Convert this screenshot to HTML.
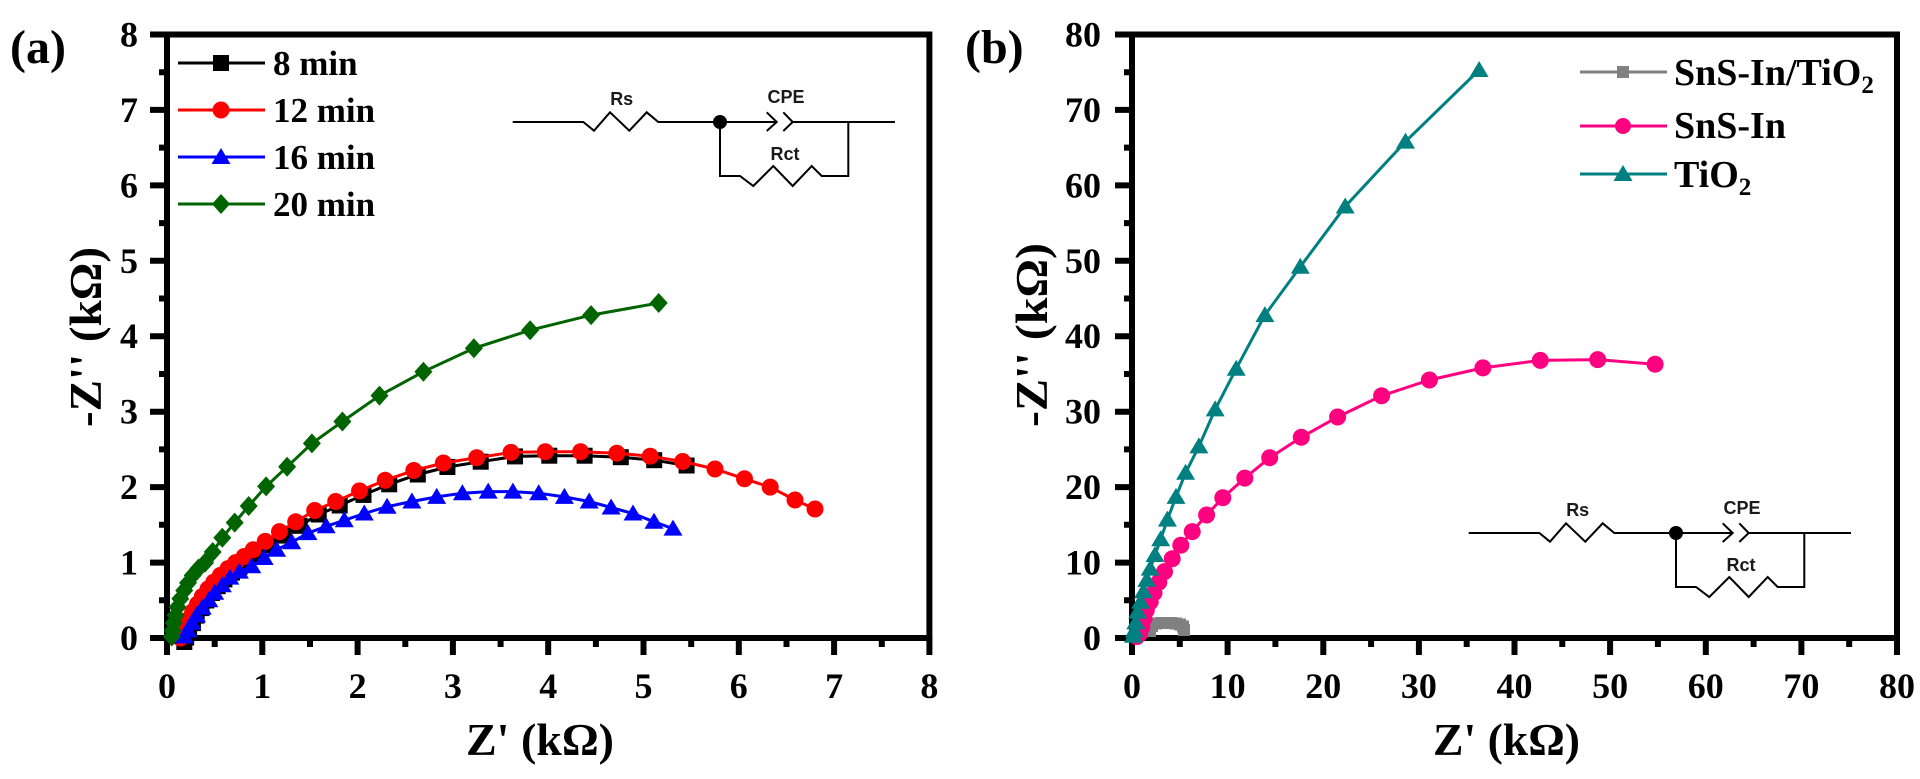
<!DOCTYPE html>
<html><head><meta charset="utf-8"><style>
html,body{margin:0;padding:0;background:#fff;}
svg{display:block;}
text{font-family:"Liberation Serif",serif;font-weight:bold;fill:#000;}
.c text{font-family:"Liberation Sans",sans-serif;font-size:18px;fill:#1a1a1a;}
</style></head><body>
<svg width="1920" height="779" viewBox="0 0 1920 779" xmlns="http://www.w3.org/2000/svg">
<rect width="1920" height="779" fill="#fff"/>

<!-- ============ PANEL A ============ -->
<g stroke="#000" stroke-width="6" fill="none">
<rect x="167" y="34.5" width="762.4" height="603.5"/>
<path d="M167 638V655M262.3 638V655M357.6 638V655M452.9 638V655M548.2 638V655M643.5 638V655M738.8 638V655M834.1 638V655M929.4 638V655"/>
<path d="M214.7 638V647M310 638V647M405.3 638V647M500.6 638V647M595.9 638V647M691.2 638V647M786.5 638V647M881.8 638V647"/>
<path d="M150 638H167M150 562.6H167M150 487.1H167M150 411.7H167M150 336.2H167M150 260.8H167M150 185.4H167M150 109.9H167M150 34.5H167"/>
<path d="M159 600.3H167M159 524.8H167M159 449.4H167M159 374H167M159 298.5H167M159 223.1H167M159 147.6H167M159 72.2H167"/>
</g>
<g font-size="36" text-anchor="middle">
<text x="167" y="698">0</text><text x="262.3" y="698">1</text><text x="357.6" y="698">2</text><text x="452.9" y="698">3</text><text x="548.2" y="698">4</text><text x="643.5" y="698">5</text><text x="738.8" y="698">6</text><text x="834.1" y="698">7</text><text x="929.4" y="698">8</text>
</g>
<g font-size="36" text-anchor="end">
<text x="138" y="650">0</text><text x="138" y="574.6">1</text><text x="138" y="499.1">2</text><text x="138" y="423.7">3</text><text x="138" y="348.2">4</text><text x="138" y="272.8">5</text><text x="138" y="197.4">6</text><text x="138" y="121.9">7</text><text x="138" y="46.5">8</text>
</g>
<text x="466" y="755" font-size="46" textLength="148" lengthAdjust="spacingAndGlyphs">Z' (kΩ)</text>
<text transform="translate(101,427) rotate(-90)" font-size="46" textLength="180" lengthAdjust="spacingAndGlyphs">-Z'' (kΩ)</text>
<text x="10" y="63" font-size="48">(a)</text>

<!-- series a: black -->
<polyline fill="none" stroke="#000" stroke-width="3" points="184.3,642 186.2,637.5 189.1,630.7 192.9,623.1 196.7,615.6 201.5,608.1 206.3,600.5 212,593 217.7,586.2 224.4,579.4 232,572.6 239.6,566.6 248.2,560.5 257.2,553.7 269.2,545.4 283.5,535.6 299.7,525.8 318.7,514.5 339.7,505.5 363.5,494.9 389.2,484.3 417.8,474.5 447.4,467 480.7,461.7 515,456.4 549.3,455.7 584.6,455.7 620.8,457.2 654.2,460.2 686.6,465.5"/>
<g fill="#000">
<rect x="176.3" y="634" width="16" height="16"/><rect x="178.2" y="629.5" width="16" height="16"/><rect x="181.1" y="622.7" width="16" height="16"/><rect x="184.9" y="615.1" width="16" height="16"/><rect x="188.7" y="607.6" width="16" height="16"/><rect x="193.5" y="600.1" width="16" height="16"/><rect x="198.3" y="592.5" width="16" height="16"/><rect x="204" y="585" width="16" height="16"/><rect x="209.7" y="578.2" width="16" height="16"/><rect x="216.4" y="571.4" width="16" height="16"/><rect x="224" y="564.6" width="16" height="16"/><rect x="231.6" y="558.6" width="16" height="16"/><rect x="240.2" y="552.5" width="16" height="16"/><rect x="249.2" y="545.7" width="16" height="16"/><rect x="261.2" y="537.4" width="16" height="16"/><rect x="275.5" y="527.6" width="16" height="16"/><rect x="291.7" y="517.8" width="16" height="16"/><rect x="310.7" y="506.5" width="16" height="16"/><rect x="331.7" y="497.5" width="16" height="16"/><rect x="355.5" y="486.9" width="16" height="16"/><rect x="381.2" y="476.3" width="16" height="16"/><rect x="409.8" y="466.5" width="16" height="16"/><rect x="439.4" y="459" width="16" height="16"/><rect x="472.7" y="453.7" width="16" height="16"/><rect x="507" y="448.4" width="16" height="16"/><rect x="541.3" y="447.7" width="16" height="16"/><rect x="576.6" y="447.7" width="16" height="16"/><rect x="612.8" y="449.2" width="16" height="16"/><rect x="646.2" y="452.2" width="16" height="16"/><rect x="678.6" y="457.5" width="16" height="16"/>
</g>
<!-- red -->
<polyline fill="none" stroke="#f00" stroke-width="3" points="180.3,638 182.2,633.5 185.1,626.7 188.9,619.1 192.7,611.6 197.5,604.1 202.3,596.5 208,589 213.7,582.2 220.4,575.4 228,568.6 235.6,562.6 244.2,556.5 253.2,549.7 265.2,541.4 279.5,531.6 295.7,521.8 314.7,510.5 335.7,501.5 359.5,490.9 385.2,480.3 413.8,470.5 443.4,463 476.7,457.7 511,452.4 545.3,451.7 580.6,451.7 616.8,453.2 650.2,456.2 682.6,461.5 715,469 744.5,478.8 770.2,487.1 795,500 815,509"/>
<g fill="#f00">
<circle cx="180.3" cy="638" r="8.5"/><circle cx="182.2" cy="633.5" r="8.5"/><circle cx="185.1" cy="626.7" r="8.5"/><circle cx="188.9" cy="619.1" r="8.5"/><circle cx="192.7" cy="611.6" r="8.5"/><circle cx="197.5" cy="604.1" r="8.5"/><circle cx="202.3" cy="596.5" r="8.5"/><circle cx="208" cy="589" r="8.5"/><circle cx="213.7" cy="582.2" r="8.5"/><circle cx="220.4" cy="575.4" r="8.5"/><circle cx="228" cy="568.6" r="8.5"/><circle cx="235.6" cy="562.6" r="8.5"/><circle cx="244.2" cy="556.5" r="8.5"/><circle cx="253.2" cy="549.7" r="8.5"/><circle cx="265.2" cy="541.4" r="8.5"/><circle cx="279.5" cy="531.6" r="8.5"/><circle cx="295.7" cy="521.8" r="8.5"/><circle cx="314.7" cy="510.5" r="8.5"/><circle cx="335.7" cy="501.5" r="8.5"/><circle cx="359.5" cy="490.9" r="8.5"/><circle cx="385.2" cy="480.3" r="8.5"/><circle cx="413.8" cy="470.5" r="8.5"/><circle cx="443.4" cy="463" r="8.5"/><circle cx="476.7" cy="457.7" r="8.5"/><circle cx="511" cy="452.4" r="8.5"/><circle cx="545.3" cy="451.7" r="8.5"/><circle cx="580.6" cy="451.7" r="8.5"/><circle cx="616.8" cy="453.2" r="8.5"/><circle cx="650.2" cy="456.2" r="8.5"/><circle cx="682.6" cy="461.5" r="8.5"/><circle cx="715" cy="469" r="8.5"/><circle cx="744.5" cy="478.8" r="8.5"/><circle cx="770.2" cy="487.1" r="8.5"/><circle cx="795" cy="500" r="8.5"/><circle cx="815" cy="509" r="8.5"/>
</g>
<!-- blue -->
<polyline fill="none" stroke="#00f" stroke-width="3" points="184.2,636.5 188,630.5 191.8,622.9 196.5,615.4 202.3,607.8 208.9,600.3 214.7,592.7 222.3,585.2 229.9,577.6 239.4,571.6 251.8,566.3 264.2,558 276.6,549.7 291.8,542.2 308,533.1 326.2,526.3 344.3,520.3 364.3,513.5 387.1,506.7 411.9,501.5 436.7,496.9 462.4,493.2 488.2,491.6 512.9,491.6 538.7,493.2 564.4,496.9 589.2,501.5 611.1,507.5 633,513.5 654,521.8 673,528.6"/>
<g fill="#00f">
<path d="M184.2 627.5l9.5 16h-19zM188 621.5l9.5 16h-19zM191.8 613.9l9.5 16h-19zM196.5 606.4l9.5 16h-19zM202.3 598.8l9.5 16h-19zM208.9 591.3l9.5 16h-19zM214.7 583.7l9.5 16h-19zM222.3 576.2l9.5 16h-19zM229.9 568.6l9.5 16h-19zM239.4 562.6l9.5 16h-19zM251.8 557.3l9.5 16h-19zM264.2 549l9.5 16h-19zM276.6 540.7l9.5 16h-19zM291.8 533.2l9.5 16h-19zM308 524.1l9.5 16h-19zM326.2 517.3l9.5 16h-19zM344.3 511.3l9.5 16h-19zM364.3 504.5l9.5 16h-19zM387.1 497.7l9.5 16h-19zM411.9 492.5l9.5 16h-19zM436.7 487.9l9.5 16h-19zM462.4 484.2l9.5 16h-19zM488.2 482.6l9.5 16h-19zM512.9 482.6l9.5 16h-19zM538.7 484.2l9.5 16h-19zM564.4 487.9l9.5 16h-19zM589.2 492.5l9.5 16h-19zM611.1 498.5l9.5 16h-19zM633 504.5l9.5 16h-19zM654 512.8l9.5 16h-19zM673 519.6l9.5 16h-19z"/>
</g>
<!-- green -->
<polyline fill="none" stroke="#006400" stroke-width="3" points="171.8,636.5 172.7,630.5 173.7,622.9 175.6,615.4 177.5,607.1 180.3,598.8 184.2,590.5 188,582.9 192.7,575.4 198.4,568.6 205.1,562.6 212.7,552 222.3,537.7 234.7,522.6 248.7,506 266.1,486.4 287.1,466.8 311.9,443.4 342.4,421.5 379.5,395.6 423.4,371.7 473.9,348.3 530.1,330.2 591.1,315.1 658.7,303"/>
<g fill="#006400">
<path d="M171.8 626.5l9 10l-9 10l-9-10zM172.7 620.5l9 10l-9 10l-9-10zM173.7 612.9l9 10l-9 10l-9-10zM175.6 605.4l9 10l-9 10l-9-10zM177.5 597.1l9 10l-9 10l-9-10zM180.3 588.8l9 10l-9 10l-9-10zM184.2 580.5l9 10l-9 10l-9-10zM188 572.9l9 10l-9 10l-9-10zM192.7 565.4l9 10l-9 10l-9-10zM198.4 558.6l9 10l-9 10l-9-10zM205.1 552.6l9 10l-9 10l-9-10zM212.7 542l9 10l-9 10l-9-10zM222.3 527.7l9 10l-9 10l-9-10zM234.7 512.6l9 10l-9 10l-9-10zM248.7 496l9 10l-9 10l-9-10zM266.1 476.4l9 10l-9 10l-9-10zM287.1 456.8l9 10l-9 10l-9-10zM311.9 433.4l9 10l-9 10l-9-10zM342.4 411.5l9 10l-9 10l-9-10zM379.5 385.6l9 10l-9 10l-9-10zM423.4 361.7l9 10l-9 10l-9-10zM473.9 338.3l9 10l-9 10l-9-10zM530.1 320.2l9 10l-9 10l-9-10zM591.1 305.1l9 10l-9 10l-9-10zM658.7 293l9 10l-9 10l-9-10z"/>
</g>

<!-- legend a -->
<g stroke-width="3">
<line x1="178" y1="63" x2="265" y2="63" stroke="#000"/>
<line x1="178" y1="110" x2="265" y2="110" stroke="#f00"/>
<line x1="178" y1="157" x2="265" y2="157" stroke="#00f"/>
<line x1="178" y1="204" x2="265" y2="204" stroke="#006400"/>
</g>
<rect x="213" y="55" width="16" height="16" fill="#000"/>
<circle cx="221" cy="110" r="8.5" fill="#f00"/>
<path d="M221 148l9.5 16h-19z" fill="#00f"/>
<path d="M221 194l9 10l-9 10l-9-10z" fill="#006400"/>
<g font-size="35">
<text x="273" y="75">8 min</text>
<text x="273" y="122">12 min</text>
<text x="273" y="169">16 min</text>
<text x="273" y="216">20 min</text>
</g>

<!-- circuit a -->
<g class="c">
<g fill="none" stroke="#000" stroke-width="2">
<polyline points="512.7,122 583.3,122 594,130.7 610,112.3 629.3,130.7 646.7,112.3 658.3,122 776.7,122"/>
<polyline points="766.7,112.3 776.7,122 766.7,131"/>
<polyline points="783.3,112.3 792.7,122 783.3,131"/>
<line x1="792.7" y1="122" x2="895" y2="122"/>
<polyline points="720,122 720,176 740,176 753.3,186 773.3,166 792.7,186 811.7,166 821.7,176 848.3,176 848.3,122"/>
</g>
<circle cx="720" cy="122" r="7" fill="#000"/>
<text x="621.7" y="105" text-anchor="middle" font-weight="bold">Rs</text>
<text x="786" y="103" text-anchor="middle" font-weight="bold">CPE</text>
<text x="785" y="160" text-anchor="middle" font-weight="bold">Rct</text>
</g>

<!-- ============ PANEL B ============ -->
<g stroke="#000" stroke-width="6" fill="none">
<rect x="1132" y="34.5" width="765" height="603.5"/>
<path d="M1132 638V655M1227.6 638V655M1323.3 638V655M1418.9 638V655M1514.5 638V655M1610.1 638V655M1705.8 638V655M1801.4 638V655M1897 638V655"/>
<path d="M1179.8 638V647M1275.4 638V647M1371.1 638V647M1466.7 638V647M1562.3 638V647M1657.9 638V647M1753.6 638V647M1849.2 638V647"/>
<path d="M1115 638H1132M1115 562.6H1132M1115 487.1H1132M1115 411.7H1132M1115 336.2H1132M1115 260.8H1132M1115 185.4H1132M1115 109.9H1132M1115 34.5H1132"/>
<path d="M1124 600.3H1132M1124 524.8H1132M1124 449.4H1132M1124 374H1132M1124 298.5H1132M1124 223.1H1132M1124 147.6H1132M1124 72.2H1132"/>
</g>
<g font-size="36" text-anchor="middle">
<text x="1132" y="698">0</text><text x="1227.6" y="698">10</text><text x="1323.3" y="698">20</text><text x="1418.9" y="698">30</text><text x="1514.5" y="698">40</text><text x="1610.1" y="698">50</text><text x="1705.8" y="698">60</text><text x="1801.4" y="698">70</text><text x="1897" y="698">80</text>
</g>
<g font-size="36" text-anchor="end">
<text x="1101" y="650">0</text><text x="1101" y="574.6">10</text><text x="1101" y="499.1">20</text><text x="1101" y="423.7">30</text><text x="1101" y="348.2">40</text><text x="1101" y="272.8">50</text><text x="1101" y="197.4">60</text><text x="1101" y="121.9">70</text><text x="1101" y="46.5">80</text>
</g>
<text x="1433" y="755" font-size="46" textLength="147" lengthAdjust="spacingAndGlyphs">Z' (kΩ)</text>
<text transform="translate(1047,427) rotate(-90)" font-size="46" textLength="184" lengthAdjust="spacingAndGlyphs">-Z'' (kΩ)</text>
<text x="965" y="63" font-size="48">(b)</text>

<!-- gray -->
<polyline fill="none" stroke="#808080" stroke-width="3" points="1150,631 1152,626 1156,623.5 1161,623 1166,623 1171,623 1176,623.5 1180,624.5 1183,626.5 1184,630"/>
<g fill="#808080">
<rect x="1144" y="625" width="12" height="12"/><rect x="1146" y="620" width="12" height="12"/><rect x="1150" y="617.5" width="12" height="12"/><rect x="1155" y="617" width="12" height="12"/><rect x="1160" y="617" width="12" height="12"/><rect x="1165" y="617" width="12" height="12"/><rect x="1170" y="617.5" width="12" height="12"/><rect x="1174" y="618.5" width="12" height="12"/><rect x="1177" y="620.5" width="12" height="12"/><rect x="1178" y="624" width="12" height="12"/>
</g>
<!-- pink -->
<polyline fill="none" stroke="#ff0080" stroke-width="3" points="1136.8,636.5 1139.7,633.5 1141.9,626.7 1144,618.4 1146.3,610.1 1150.2,601.8 1154,592.7 1158.8,582.2 1164.5,571.6 1172.2,558.8 1180.8,545.2 1192.2,531.6 1206.6,515 1222.8,497.7 1244.8,478.1 1269.7,457.7 1301.3,437.3 1337.6,417 1381.6,395.8 1429.4,380 1482.9,367.9 1540.3,360.4 1597.7,359.6 1655.1,364.2"/>
<g fill="#ff0080">
<circle cx="1136.8" cy="636.5" r="8.5"/><circle cx="1139.7" cy="633.5" r="8.5"/><circle cx="1141.9" cy="626.7" r="8.5"/><circle cx="1144" cy="618.4" r="8.5"/><circle cx="1146.3" cy="610.1" r="8.5"/><circle cx="1150.2" cy="601.8" r="8.5"/><circle cx="1154" cy="592.7" r="8.5"/><circle cx="1158.8" cy="582.2" r="8.5"/><circle cx="1164.5" cy="571.6" r="8.5"/><circle cx="1172.2" cy="558.8" r="8.5"/><circle cx="1180.8" cy="545.2" r="8.5"/><circle cx="1192.2" cy="531.6" r="8.5"/><circle cx="1206.6" cy="515" r="8.5"/><circle cx="1222.8" cy="497.7" r="8.5"/><circle cx="1244.8" cy="478.1" r="8.5"/><circle cx="1269.7" cy="457.7" r="8.5"/><circle cx="1301.3" cy="437.3" r="8.5"/><circle cx="1337.6" cy="417" r="8.5"/><circle cx="1381.6" cy="395.8" r="8.5"/><circle cx="1429.4" cy="380" r="8.5"/><circle cx="1482.9" cy="367.9" r="8.5"/><circle cx="1540.3" cy="360.4" r="8.5"/><circle cx="1597.7" cy="359.6" r="8.5"/><circle cx="1655.1" cy="364.2" r="8.5"/>
</g>
<!-- teal -->
<polyline fill="none" stroke="#008080" stroke-width="3" points="1133.4,635.7 1134.4,630.5 1135.8,622.2 1137.7,611.6 1140.6,601.8 1143.5,591.2 1146.8,579.9 1150.2,568.6 1155,555 1160.7,539.2 1167.4,519.6 1176,496.9 1185.6,472.8 1198.9,446.4 1215.2,409.4 1236.2,368.7 1264.9,315.1 1300.3,266.8 1345.2,206.5 1405.5,141.6 1479.1,70"/>
<g fill="#008080">
<path d="M1133.4 626.7l9.5 16h-19zM1134.4 621.5l9.5 16h-19zM1135.8 613.2l9.5 16h-19zM1137.7 602.6l9.5 16h-19zM1140.6 592.8l9.5 16h-19zM1143.5 582.2l9.5 16h-19zM1146.8 570.9l9.5 16h-19zM1150.2 559.6l9.5 16h-19zM1155 546l9.5 16h-19zM1160.7 530.2l9.5 16h-19zM1167.4 510.6l9.5 16h-19zM1176 487.9l9.5 16h-19zM1185.6 463.8l9.5 16h-19zM1198.9 437.4l9.5 16h-19zM1215.2 400.4l9.5 16h-19zM1236.2 359.7l9.5 16h-19zM1264.9 306.1l9.5 16h-19zM1300.3 257.8l9.5 16h-19zM1345.2 197.5l9.5 16h-19zM1405.5 132.6l9.5 16h-19zM1479.1 61l9.5 16h-19z"/>
</g>

<!-- legend b -->
<g stroke-width="3">
<line x1="1580" y1="72" x2="1667" y2="72" stroke="#808080"/>
<line x1="1580" y1="126" x2="1667" y2="126" stroke="#ff0080"/>
<line x1="1580" y1="174" x2="1667" y2="174" stroke="#008080"/>
</g>
<rect x="1617" y="66" width="12" height="12" fill="#808080"/>
<circle cx="1623" cy="126" r="8" fill="#ff0080"/>
<path d="M1623 165l9.5 16h-19z" fill="#008080"/>
<g font-size="38">
<text x="1674" y="85">SnS-In/TiO<tspan font-size="25" dy="8">2</tspan></text>
<text x="1674" y="138">SnS-In</text>
<text x="1674" y="187">TiO<tspan font-size="25" dy="8">2</tspan></text>
</g>

<!-- circuit b -->
<g class="c" transform="translate(956,411)">
<g fill="none" stroke="#000" stroke-width="2">
<polyline points="512.7,122 583.3,122 594,130.7 610,112.3 629.3,130.7 646.7,112.3 658.3,122 776.7,122"/>
<polyline points="766.7,112.3 776.7,122 766.7,131"/>
<polyline points="783.3,112.3 792.7,122 783.3,131"/>
<line x1="792.7" y1="122" x2="895" y2="122"/>
<polyline points="720,122 720,176 740,176 753.3,186 773.3,166 792.7,186 811.7,166 821.7,176 848.3,176 848.3,122"/>
</g>
<circle cx="720" cy="122" r="7" fill="#000"/>
<text x="621.7" y="105" text-anchor="middle" font-weight="bold">Rs</text>
<text x="786" y="103" text-anchor="middle" font-weight="bold">CPE</text>
<text x="785" y="160" text-anchor="middle" font-weight="bold">Rct</text>
</g>
</svg>
</body></html>
